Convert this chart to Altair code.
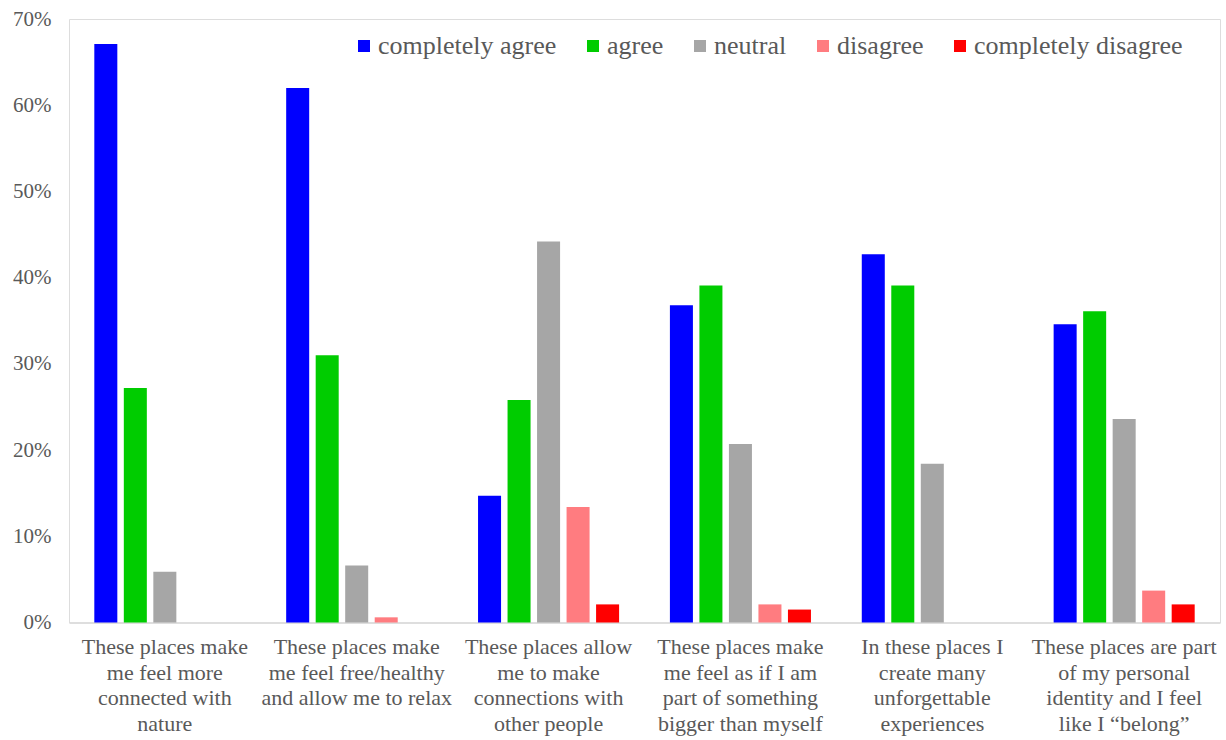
import altair as alt
import pandas as pd

categories = [
    "These places make|me feel more|connected with|nature",
    "These places make|me feel free/healthy|and allow me to relax",
    "These places allow|me to make|connections with|other people",
    "These places make|me feel as if I am|part of something|bigger than myself",
    "In these places I|create many|unforgettable|experiences",
    "These places are part|of my personal|identity and I feel|like I \u201cbelong\u201d",
]
series = ["completely agree", "agree", "neutral", "disagree", "completely disagree"]
colors = ["#0000FF", "#00CC00", "#A6A6A6", "#FF7C80", "#FF0000"]

completely_agree = [67.1, 62.0, 14.7, 36.8, 42.7, 34.6]
agree = [27.2, 31.0, 25.8, 39.1, 39.1, 36.1]
neutral = [5.9, 6.6, 44.2, 20.7, 18.4, 23.6]
disagree = [0.0, 0.6, 13.4, 2.1, 0.0, 3.7]
completely_disagree = [0.0, 0.0, 2.1, 1.5, 0.0, 2.1]

values = [completely_agree, agree, neutral, disagree, completely_disagree]
rows = []
for s, vals in zip(series, values):
    for c, v in zip(categories, vals):
        rows.append({"category": c, "series": s, "value": v / 100.0})
df = pd.DataFrame(rows)

font = "Liberation Serif"
txt = "#595959"

chart = alt.Chart(df).mark_bar().encode(
    x=alt.X(
        "category:N",
        sort=categories,
        title=None,
        scale=alt.Scale(paddingInner=0.231, paddingOuter=0.115),
        axis=alt.Axis(
            labelExpr="split(datum.label, '|')",
            labelAngle=0,
            labelFont=font,
            labelFontSize=22,
            labelColor=txt,
            labelLineHeight=25.5,
            labelPadding=14,
            labelBaseline="top",
            ticks=False,
            domainColor="#D9D9D9",
            domainWidth=1.5,
            labelLimit=400,
        ),
    ),
    xOffset=alt.XOffset(
        "series:N",
        sort=series,
        scale=alt.Scale(paddingInner=0.22, paddingOuter=0.11),
    ),
    y=alt.Y(
        "value:Q",
        title=None,
        scale=alt.Scale(domain=[0, 0.7], nice=False),
        axis=alt.Axis(
            format=".0%",
            values=[0, 0.1, 0.2, 0.3, 0.4, 0.5, 0.6, 0.7],
            grid=False,
            domain=False,
            ticks=False,
            labelFont=font,
            labelFontSize=21,
            labelColor=txt,
            labelPadding=18,
        ),
    ),
    color=alt.Color(
        "series:N",
        sort=series,
        scale=alt.Scale(domain=series, range=colors),
        legend=alt.Legend(
            title=None,
            orient="none",
            direction="horizontal",
            legendX=282,
            legendY=14,
            symbolType="square",
            symbolSize=144,
            symbolStrokeWidth=0,
            labelFont=font,
            labelFontSize=26,
            labelColor=txt,
            labelOffset=1,
            columnPadding=23,
            labelLimit=400,
        ),
    ),
).properties(
    width=1151,
    height=603.5,
    autosize=alt.AutoSizeParams(type="none"),
    padding={"left": 69, "top": 19, "right": 6, "bottom": 117},
).configure_view(stroke=None).configure(background="white")

chart.save("out.html", embed_options={"renderer": "svg", "actions": False})
